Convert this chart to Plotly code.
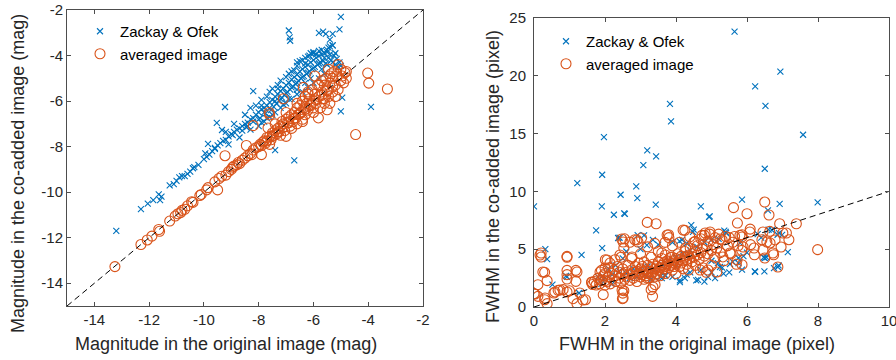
import plotly.graph_objects as go

# ---------------- Left panel: magnitudes ----------------
mag_zo = [
    (-13.2, -11.7), (-12.3, -10.75), (-12.05, -10.5), (-11.85, -10.35), (-11.65, -10.1), (-11.6, -10.35),
    (-11.55, -10.2), (-11.25, -9.7), (-11.1, -9.65), (-11.0, -9.5), (-10.9, -9.35), (-10.8, -9.3),
    (-10.7, -9.3), (-10.6, -9.2), (-10.5, -9.1), (-10.4, -8.95), (-10.35, -8.9), (-10.2, -8.8),
    (-10.0, -8.55), (-9.9, -8.45), (-9.8, -8.35), (-9.7, -8.2), (-9.6, -8.1), (-9.5, -7.95),
    (-9.4, -7.85), (-9.3, -7.75), (-9.2, -7.7), (-9.1, -7.55), (-9.0, -7.45), (-8.95, -7.5),
    (-8.9, -7.35), (-8.8, -7.25), (-8.7, -7.2), (-8.6, -7.1), (-8.5, -7.0), (-8.45, -7.15),
    (-8.4, -6.95), (-8.3, -6.8), (-8.2, -6.75), (-8.1, -6.6), (-8.0, -6.5), (-7.95, -6.75),
    (-7.9, -6.35), (-7.8, -6.3), (-7.75, -6.55), (-7.7, -6.2), (-7.6, -6.05), (-7.55, -6.4),
    (-7.5, -5.95), (-7.45, -6.25), (-7.4, -5.8), (-7.35, -6.1), (-7.3, -5.7), (-7.25, -6.0),
    (-7.2, -5.55), (-7.15, -5.85), (-7.1, -5.45), (-7.05, -5.75), (-7.0, -5.3), (-6.95, -5.6),
    (-6.9, -5.2), (-6.85, -5.5), (-6.8, -5.05), (-6.75, -5.35), (-6.7, -4.95), (-6.65, -5.25),
    (-6.6, -4.85), (-6.55, -5.1), (-6.5, -4.7), (-6.45, -5.0), (-6.4, -4.6), (-6.35, -4.9),
    (-6.3, -4.5), (-6.25, -4.8), (-6.2, -4.4), (-6.15, -4.7), (-6.1, -4.3), (-6.05, -4.6),
    (-6.0, -4.2), (-5.95, -4.5), (-5.9, -4.1), (-5.85, -4.4), (-5.8, -4.0), (-5.75, -4.3),
    (-5.7, -3.95), (-5.65, -4.25), (-5.6, -3.9), (-5.55, -4.35), (-5.5, -3.85), (-5.45, -4.1),
    (-5.4, -3.6), (-5.35, -4.2), (-5.3, -3.55), (-5.25, -4.0), (-5.2, -4.4), (-5.15, -4.15),
    (-5.1, -4.5), (-5.05, -4.3), (-5.0, -4.45),
    (-8.0, -7.1), (-7.8, -6.9), (-7.6, -6.7), (-7.4, -6.5), (-7.2, -6.3), (-7.0, -6.1),
    (-6.8, -5.9), (-6.6, -5.7), (-6.4, -5.6), (-6.2, -5.4), (-6.0, -5.2), (-5.8, -5.0), (-5.6, -4.8),
    (-7.6, -5.6), (-7.3, -5.3), (-7.0, -4.95), (-6.8, -4.7), (-6.6, -4.45), (-6.4, -4.2),
    (-6.2, -4.05), (-6.0, -3.9), (-5.8, -3.8),
    (-8.6, -7.3), (-8.4, -7.1), (-8.2, -6.9), (-8.0, -6.8), (-7.8, -6.5), (-7.6, -6.3),
    (-7.4, -6.0), (-7.2, -5.9), (-7.0, -5.65), (-6.8, -5.4), (-6.6, -5.2), (-6.4, -4.95),
    (-6.2, -4.75), (-6.0, -4.55), (-5.8, -4.35), (-5.6, -4.1), (-5.4, -3.95), (-5.2, -3.9),
    (-7.9, -6.2), (-7.3, -5.45), (-6.7, -4.65), (-6.3, -4.35), (-5.9, -3.95), (-5.5, -3.75),
    (-6.0, -3.85), (-6.15, -4.0),
    (-8.3, -6.3), (-8.1, -6.2), (-7.9, -5.95), (-7.7, -5.8), (-7.5, -5.45), (-7.2, -5.1),
    (-6.9, -4.8), (-6.6, -4.3), (-6.5, -4.25), (-6.3, -4.1), (-6.1, -3.9), (-6.6, -5.5),
    (-6.3, -5.2), (-6.1, -5.0), (-7.1, -6.15), (-7.5, -6.6), (-7.9, -6.95), (-8.3, -7.25),
    (-8.7, -7.6), (-9.1, -7.9), (-9.2, -7.35), (-8.9, -7.0), (-8.5, -6.6), (-5.7, -4.6),
    (-5.5, -4.4), (-5.3, -4.3), (-6.9, -5.9), (-7.7, -6.75),
    (-6.9, -2.9), (-6.87, -3.2), (-6.85, -3.35), (-5.8, -3.0), (-5.65, -2.95), (-5.55, -3.05),
    (-5.3, -3.05), (-5.4, -3.3), (-5.0, -2.3), (-5.05, -2.85), (-5.3, -3.55), (-5.45, -3.65),
    (-5.7, -3.75), (-4.95, -5.85), (-5.0, -6.45), (-3.9, -6.25), (-7.4, -8.15), (-6.7, -8.6),
    (-8.2, -5.56), (-9.23, -6.26), (-9.53, -6.96), (-9.34, -7.27), (-9.85, -7.88), (-9.6, -8.06),
    (-9.95, -8.3),
]

mag_avg = [
    (-13.25, -13.27), (-12.3, -12.3), (-12.07, -12.1), (-11.9, -11.93), (-11.65, -11.64),
    (-11.62, -11.72), (-11.25, -11.27), (-11.05, -11.05), (-10.95, -10.95), (-10.85, -10.9),
    (-10.8, -10.8), (-10.7, -10.75), (-10.6, -10.6), (-10.45, -10.42), (-10.4, -10.45),
    (-10.1, -10.1), (-10.15, -10.15), (-9.9, -9.9), (-9.85, -9.8), (-9.5, -9.9), (-9.6, -9.55),
    (-9.45, -9.4), (-9.35, -9.3), (-9.2, -9.25), (-9.1, -9.1), (-9.23, -8.4), (-9.0, -9.0),
    (-8.95, -8.9), (-8.9, -8.85), (-8.8, -8.8), (-8.75, -8.7), (-8.7, -8.75), (-8.6, -8.6),
    (-8.5, -8.5), (-8.45, -7.95), (-8.4, -8.4), (-8.3, -8.3), (-8.25, -8.35), (-8.2, -8.15),
    (-8.2, -7.08), (-8.1, -8.05), (-8.0, -8.0), (-7.95, -7.9), (-7.9, -8.35), (-7.85, -7.8),
    (-7.8, -7.75), (-7.75, -7.85), (-7.7, -7.6), (-7.66, -7.18), (-7.62, -6.5), (-7.6, -6.6),
    (-7.6, -7.55), (-7.55, -7.7), (-7.5, -7.4), (-7.45, -7.5), (-7.4, -7.3), (-7.35, -7.45),
    (-7.3, -7.2), (-7.25, -7.35), (-7.2, -7.1), (-7.15, -6.9), (-7.1, -5.9), (-7.1, -7.0),
    (-7.05, -7.3), (-7.0, -7.55), (-7.0, -6.8), (-6.95, -6.95), (-6.9, -6.7), (-6.85, -7.1),
    (-6.8, -6.6), (-6.75, -6.9), (-6.7, -6.5), (-6.65, -6.75), (-6.6, -7.0), (-6.6, -6.3),
    (-6.55, -6.6), (-6.5, -6.2), (-6.45, -6.5), (-6.4, -6.9), (-6.4, -6.0), (-6.37, -5.4),
    (-6.35, -6.3), (-6.3, -5.8), (-6.3, -6.6), (-6.25, -6.1), (-6.2, -5.6), (-6.2, -6.4),
    (-6.15, -5.9), (-6.1, -6.2), (-6.05, -5.5), (-6.0, -6.0), (-6.0, -6.5), (-5.95, -4.9),
    (-5.95, -5.7), (-5.9, -6.1), (-5.85, -5.3), (-5.82, -6.74), (-5.8, -5.8), (-5.75, -6.3),
    (-5.7, -5.1), (-5.7, -5.6), (-5.65, -5.9), (-5.6, -5.3), (-5.6, -6.1), (-5.55, -5.0),
    (-5.5, -5.5), (-5.5, -6.38), (-5.45, -4.6), (-5.45, -5.8), (-5.4, -5.2), (-5.35, -4.8),
    (-5.3, -5.6), (-5.3, -5.0), (-5.25, -4.7), (-5.2, -5.3), (-5.15, -4.9), (-5.1, -4.4),
    (-5.1, -5.5), (-5.0, -4.6), (-5.0, -5.1), (-4.95, -4.9), (-4.9, -5.2), (-4.85, -4.75),
    (-4.8, -5.0), (-4.8, -4.7), (-4.46, -7.47), (-4.02, -4.77), (-3.98, -5.21), (-3.3, -5.47),
    (-7.9, -7.95), (-7.7, -7.75), (-7.5, -7.55), (-7.3, -7.35), (-7.1, -7.15), (-6.9, -6.95),
    (-6.7, -6.75), (-6.5, -6.55), (-6.3, -6.35), (-6.1, -6.15), (-5.9, -5.95), (-5.7, -5.75),
    (-5.5, -5.55), (-5.3, -5.35), (-7.6, -7.9), (-7.2, -7.5), (-6.8, -7.2), (-6.4, -6.8),
    (-6.0, -6.3), (-5.6, -5.9), (-5.4, -6.1), (-5.2, -5.8), (-7.4, -7.0), (-7.0, -6.5),
    (-6.6, -6.1), (-6.2, -5.7), (-5.8, -5.3), (-5.4, -4.9),
]

# ---------------- Right panel: FWHM ----------------
fwhm_zo = [
    (5.65, 23.83), (6.94, 20.37), (6.23, 19.08), (6.52, 17.4), (3.83, 17.58), (3.86, 16.05),
    (1.97, 14.7), (7.58, 14.9), (3.19, 13.54), (3.44, 13.03), (3.08, 12.28), (6.5, 11.96),
    (1.92, 11.44), (1.22, 10.72), (2.88, 10.43), (2.91, 9.42), (2.44, 9.71), (0.0, 8.7),
    (1.91, 8.7), (3.43, 8.85), (5.86, 9.28), (4.7, 8.7), (7.99, 9.05), (6.92, 8.93), (6.59, 8.36),
    (2.25, 7.98), (2.54, 8.1), (2.56, 8.05), (4.95, 7.84), (4.43, 7.09), (1.75, 6.63), (2.41, 5.99),
    (0.32, 5.01), (0.37, 4.15), (1.34, 4.5), (1.92, 5.1), (2.92, 6.22), (0.52, 1.93), (0.93, 2.6),
    (1.27, 1.21), (1.92, 2.68), (0.9, 2.7),
    (4.57, 2.3), (4.11, 2.3), (3.69, 2.77), (4.11, 2.16), (4.62, 2.34), (4.9, 2.6), (5.1, 2.5),
    (5.34, 2.88), (5.86, 3.23), (6.23, 3.03), (6.22, 3.08), (6.49, 3.08), (6.47, 4.29), (6.5, 4.24),
    (6.55, 4.3), (6.89, 3.6), (6.87, 3.46), (6.76, 3.37), (7.15, 4.75), (6.86, 6.25), (6.61, 6.69),
    (6.7, 6.66), (6.99, 6.23), (6.9, 6.4), (5.36, 6.6), (5.41, 6.4), (5.76, 4.24), (5.76, 3.8),
    (5.8, 5.54), (5.52, 3.72), (5.18, 3.8), (5.24, 3.46), (4.17, 5.8), (3.18, 5.36), (3.35, 5.8),
    (3.13, 2.77), (3.55, 2.6), (2.37, 5.97), (4.48, 6.49), (4.93, 7.79),
    (2.0, 2.5), (2.2, 2.8), (2.4, 3.1), (2.6, 2.9), (2.8, 3.3), (3.0, 3.1), (3.2, 3.5), (3.4, 3.3),
    (3.5, 5.4), (3.6, 3.7), (3.8, 4.0), (4.0, 4.3), (4.1, 5.7), (4.2, 4.6), (4.3, 5.5), (4.4, 4.9),
    (4.5, 6.7), (4.6, 5.2), (4.8, 5.6), (5.0, 5.8), (5.2, 5.9), (5.4, 6.5), (2.5, 4.2), (2.9, 2.6),
    (3.3, 2.4), (3.7, 2.7), (3.9, 5.6), (4.3, 2.8), (4.7, 3.2), (5.0, 3.0), (5.5, 3.0), (5.0, 4.0),
    (3.1, 6.2), (2.2, 2.0), (1.8, 2.6), (2.7, 2.5), (4.0, 3.5),
    (3.9, 2.6), (4.25, 2.5), (4.4, 3.0), (3.6, 2.5), (4.8, 2.2), (5.3, 3.4), (5.6, 3.9), (5.9, 4.4),
    (6.0, 4.7), (6.3, 6.3), (6.4, 6.0), (3.0, 5.0), (2.6, 4.8), (2.1, 3.3), (1.9, 2.0), (2.3, 3.6),
]

fwhm_avg = [
    (0.2, 4.67), (0.2, 4.32), (0.17, 4.5), (0.93, 4.38), (0.93, 4.3), (0.3, 3.0), (0.25, 3.03),
    (0.37, 2.28), (0.11, 1.93), (0.0, 1.15), (0.03, 1.12), (0.11, 0.92), (0.3, 0.63), (0.31, 0.78),
    (0.37, 0.29), (0.56, 1.21), (0.59, 1.3), (0.68, 1.44), (0.73, 1.47), (0.82, 1.5), (0.93, 1.3),
    (1.0, 1.4), (0.93, 3.17), (0.93, 2.8), (0.93, 2.42), (1.18, 3.17), (1.21, 3.03), (1.18, 2.22),
    (1.1, 0.72), (1.21, 0.29), (1.29, 1.21), (1.38, 0.6), (1.45, 0.63), (1.62, 2.13), (1.63, 2.16),
    (1.65, 1.95), (1.86, 3.03), (1.9, 3.17), (1.95, 1.07), (2.0, 2.28), (2.0, 3.37), (2.01, 4.09),
    (2.06, 4.07), (2.14, 3.8), (2.28, 4.09), (2.42, 4.5), (2.53, 5.1), (2.47, 5.88), (2.51, 5.62),
    (2.49, 0.72), (2.51, 0.78), (2.53, 1.41), (2.48, 1.47), (2.5, 1.2), (2.76, 4.33), (2.84, 5.82),
    (2.93, 5.62), (3.03, 5.97), (3.19, 7.32), (3.44, 7.2), (3.3, 1.5), (3.34, 0.92), (3.35, 1.73),
    (3.19, 2.51), (3.41, 1.93), (3.6, 4.67), (3.79, 6.25), (3.75, 6.23), (3.69, 5.59), (3.89, 4.33),
    (4.2, 6.66), (4.25, 6.63), (4.27, 5.1), (4.39, 6.06), (4.54, 5.68), (4.73, 6.2), (4.82, 6.4),
    (4.96, 6.49), (4.68, 3.2), (4.9, 3.2), (5.15, 3.03), (5.24, 5.88), (5.32, 4.33), (5.52, 4.67),
    (5.72, 4.07), (5.62, 8.6), (6.0, 8.07), (5.73, 7.26), (6.5, 9.08), (6.62, 7.96), (6.92, 7.2),
    (7.39, 7.2), (6.64, 6.54), (6.09, 6.74), (6.08, 6.49), (5.86, 6.25), (5.86, 6.06), (5.89, 5.19),
    (6.1, 5.4), (6.2, 5.1), (6.45, 6.49), (7.01, 6.4), (7.18, 5.82), (7.11, 6.4), (6.42, 5.82),
    (6.79, 5.8), (6.56, 5.62), (6.65, 5.54), (6.96, 5.19), (6.45, 4.93), (6.73, 4.67), (6.75, 4.52),
    (6.21, 4.52), (6.5, 4.24), (6.87, 3.46), (5.86, 3.66), (7.99, 4.96),
    (1.7, 2.2), (1.75, 1.9), (1.8, 2.5), (1.85, 2.0), (1.9, 2.3), (1.95, 2.7), (2.0, 1.9), (2.0, 2.9),
    (2.05, 2.2), (2.1, 2.6), (2.1, 3.4), (2.15, 2.0), (2.2, 2.4), (2.2, 2.9), (2.25, 3.2), (2.3, 2.2),
    (2.3, 2.7), (2.35, 3.5), (2.4, 2.5), (2.4, 3.0), (2.45, 2.1), (2.45, 4.3), (2.5, 2.8), (2.5, 3.3),
    (2.55, 2.4), (2.55, 5.9), (2.6, 3.0), (2.6, 2.6), (2.65, 3.6), (2.7, 2.3), (2.7, 2.8), (2.7, 5.6),
    (2.75, 3.2), (2.75, 4.2), (2.8, 2.5), (2.8, 3.0), (2.85, 3.5), (2.85, 2.7), (2.9, 2.2), (2.9, 3.1),
    (2.9, 5.8), (2.95, 2.9), (2.95, 3.8), (3.0, 2.6), (3.0, 3.3), (3.0, 4.6), (3.05, 2.8), (3.05, 3.5),
    (3.1, 2.4), (3.1, 3.0), (3.1, 3.9), (3.15, 3.2), (3.15, 2.7), (3.2, 2.9), (3.2, 3.6), (3.2, 5.2),
    (3.25, 3.1), (3.25, 2.5), (3.3, 3.4), (3.3, 2.8), (3.3, 4.3), (3.35, 3.0), (3.35, 3.7), (3.4, 3.3),
    (3.4, 2.6), (3.4, 5.5), (3.45, 3.5), (3.45, 2.9), (3.5, 3.2), (3.5, 3.9), (3.5, 4.8), (3.55, 3.4),
    (3.55, 2.7), (3.6, 3.6), (3.6, 3.0), (3.6, 4.2), (3.65, 3.8), (3.65, 3.3), (3.7, 3.5), (3.7, 2.9),
    (3.7, 4.5), (3.75, 3.7), (3.75, 4.0), (3.8, 3.4), (3.8, 3.9), (3.8, 6.0), (3.85, 3.6), (3.85, 4.3),
    (3.9, 3.8), (3.9, 3.2), (3.9, 5.3), (3.95, 4.0), (3.95, 3.5), (4.0, 3.7), (4.0, 4.2), (4.0, 2.9),
    (4.05, 3.9), (4.05, 4.6), (4.1, 3.5), (4.1, 4.1), (4.1, 5.6), (4.15, 3.8), (4.15, 4.4), (4.2, 4.0),
    (4.2, 3.3), (4.25, 4.3), (4.25, 4.8), (4.3, 3.7), (4.3, 4.1), (4.35, 4.5), (4.35, 3.2), (4.4, 4.2),
    (4.4, 5.1), (4.45, 3.9), (4.45, 4.6), (4.5, 4.3), (4.5, 5.6), (4.55, 3.6), (4.55, 4.8), (4.6, 4.5),
    (4.6, 5.3), (4.65, 4.1), (4.7, 4.7), (4.7, 5.9), (4.75, 3.4), (4.75, 5.0), (4.8, 4.4), (4.8, 6.2),
    (4.85, 5.2), (4.85, 3.0), (4.9, 4.6), (4.9, 5.7), (4.95, 6.3), (5.0, 4.9), (5.0, 3.6), (5.05, 5.4),
    (5.1, 6.0), (5.1, 4.3), (5.15, 5.1), (5.2, 6.3), (5.25, 4.7), (5.3, 5.8), (5.35, 4.0), (5.4, 6.1),
    (5.45, 5.3), (5.5, 6.0), (5.55, 4.6), (5.6, 5.6), (5.65, 6.1), (5.7, 3.7), (5.75, 5.3), (5.8, 6.2),
    (5.85, 4.9),
]

# axes settings (ranges / ticks / titles)
mag_range = [-15, -2]
mag_ticks = [-14, -12, -10, -8, -6, -4, -2]
mag_ticktext = ["-14", "-12", "-10", "-8", "-6", "-4", "-2"]
fwhm_xrange = [0, 10]
fwhm_yrange = [0, 25]
fwhm_xticks = [0, 2, 4, 6, 8, 10]
fwhm_yticks = [0, 5, 10, 15, 20, 25]
titles = {
    "mag_x": "Magnitude in the original image (mag)",
    "mag_y": "Magnitude in the co-added image (mag)",
    "fwhm_x": "FWHM in the original image (pixel)",
    "fwhm_y": "FWHM in the co-added image (pixel)",
}

BLUE = "#0072BD"
ORANGE = "#D95319"
FONT = "Liberation Sans, Arial, Helvetica, sans-serif"
TXT = "#262626"
LINE = "#4d4d4d"

def xs(p):
    return [a for a, _ in p]

def ys(p):
    return [b for _, b in p]

fig = go.Figure()

x_marker = dict(symbol="x-thin-open", size=6, color=BLUE, line=dict(width=1.1, color=BLUE))
o_marker = dict(symbol="circle-open", size=10, color=ORANGE, line=dict(width=1.1, color=ORANGE))

fig.add_trace(go.Scatter(x=xs(mag_zo), y=ys(mag_zo), mode="markers", name="Zackay & Ofek",
                         marker=x_marker, xaxis="x", yaxis="y", legend="legend"))
fig.add_trace(go.Scatter(x=xs(mag_avg), y=ys(mag_avg), mode="markers", name="averaged image",
                         marker=o_marker, xaxis="x", yaxis="y", legend="legend"))
fig.add_trace(go.Scatter(x=mag_range, y=mag_range, mode="lines", showlegend=False,
                         line=dict(color="black", width=1, dash="6px,4px"), xaxis="x", yaxis="y"))

fig.add_trace(go.Scatter(x=xs(fwhm_zo), y=ys(fwhm_zo), mode="markers", name="Zackay & Ofek",
                         marker=x_marker, xaxis="x2", yaxis="y2", legend="legend2"))
fig.add_trace(go.Scatter(x=xs(fwhm_avg), y=ys(fwhm_avg), mode="markers", name="averaged image",
                         marker=o_marker, xaxis="x2", yaxis="y2", legend="legend2"))
fig.add_trace(go.Scatter(x=fwhm_xrange, y=fwhm_xrange, mode="lines", showlegend=False,
                         line=dict(color="black", width=1, dash="6px,4px"), xaxis="x2", yaxis="y2"))

W, H = 896, 360

def ax(domain, rng, tickvals, ticktext=None, tls=0):
    d = dict(domain=domain, range=rng, tickvals=tickvals, ticks="inside", ticklen=4,
             tickcolor=LINE, showline=True, linecolor=LINE, linewidth=1, mirror="ticks",
             showgrid=False, zeroline=False, tickfont=dict(family=FONT, size=15, color=TXT),
             ticklabelstandoff=tls, ticklabeloverflow="allow", automargin=False)
    if ticktext is not None:
        d["ticktext"] = ticktext
    return d

def title_ann(text, px, py, angle=0):
    return dict(text=text, x=px / W, y=1 - py / H, xref="paper", yref="paper",
                xanchor="center", yanchor="middle", showarrow=False, textangle=angle,
                font=dict(family=FONT, size=18, color=TXT))

fig.update_layout(
    width=W, height=H,
    margin=dict(l=0, r=0, t=0, b=0),
    paper_bgcolor="white", plot_bgcolor="white",
    showlegend=True,
    xaxis=ax([67 / W, 423 / W], mag_range, mag_ticks, mag_ticktext),
    yaxis=ax([1 - 306 / H, 1 - 10 / H], mag_range, mag_ticks, mag_ticktext),
    xaxis2=ax([534 / W, 889 / W], fwhm_xrange, fwhm_xticks),
    yaxis2=ax([1 - 307 / H, 1 - 18 / H], fwhm_yrange, fwhm_yticks, tls=4),
    legend=dict(x=80 / W, y=1 - 15 / H, xanchor="left", yanchor="top", bgcolor="rgba(0,0,0,0)",
                font=dict(family=FONT, size=15, color="#000"), itemsizing="trace", tracegroupgap=0),
    legend2=dict(x=546 / W, y=1 - 25 / H, xanchor="left", yanchor="top", bgcolor="rgba(0,0,0,0)",
                 font=dict(family=FONT, size=15, color="#000"), itemsizing="trace", tracegroupgap=0),
    annotations=[
        title_ann(titles["mag_x"], 226, 344),
        title_ann(titles["mag_y"], 18, 174, -90),
        title_ann(titles["fwhm_x"], 697, 344),
        title_ann(titles["fwhm_y"], 493, 177, -90),
    ],
)
fig.layout.xaxis2.anchor = "y2"
fig.layout.yaxis2.anchor = "x2"
fig.layout.xaxis.anchor = "y"
fig.layout.yaxis.anchor = "x"

fig.write_html("out.html")
